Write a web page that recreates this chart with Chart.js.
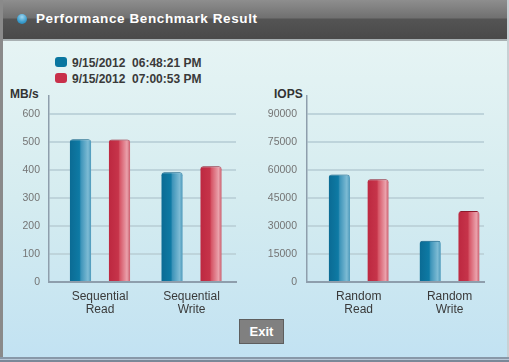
<!DOCTYPE html>
<html>
<head>
<meta charset="utf-8">
<script src="https://cdn.jsdelivr.net/npm/chart.js@4"></script>
<style>
html,body{margin:0;padding:0;width:509px;height:362px;overflow:hidden;font-family:"Liberation Sans",Arial,sans-serif;}
#frame{position:absolute;left:0;top:0;width:509px;height:362px;background:#8a8a8a;}
#titlebar{position:absolute;left:3px;top:0;width:504px;height:39px;
 background:linear-gradient(to bottom,#8e8e8e 0px,#707070 18px,#545454 19px,#4a4a4a 38px);}
#titleline{position:absolute;left:3px;top:39px;width:504px;height:2px;background:#a8b0b2;}
#bullet{position:absolute;left:17px;top:14px;width:10px;height:10px;border-radius:50%;
 background:radial-gradient(circle at 50% 30%,#9fd6f0 0%,#3a9ccc 60%,#1f7fb0 100%);}
#title{position:absolute;left:36px;top:11px;color:#fff;font-weight:bold;font-size:13.5px;letter-spacing:0.6px;white-space:nowrap;}
#body{position:absolute;left:3px;top:41px;width:504px;height:316px;
 background:linear-gradient(to bottom,#e6f4f4 0%,#d5ecf0 50%,#c2e2f2 100%);}
#rightedge{position:absolute;left:507px;top:0;width:2px;height:362px;background:#c8d0d4;}
#bottom{position:absolute;left:0;top:357px;width:509px;height:5px;background:linear-gradient(to bottom,#8898a8 0,#8898a8 2px,#b8c8d8 2px,#b8c8d8 3px,#7a8898 3px);}
.leg{position:absolute;left:55px;font-weight:bold;font-size:12px;color:#3a3a3a;white-space:pre;}
.sw{position:absolute;left:55px;width:12px;height:10px;border-radius:3px;}
.axt{position:absolute;font-weight:bold;font-size:12px;color:#333;}
#exit{position:absolute;left:239px;top:319px;width:43px;height:23px;background:#808080;border:1px solid #5e5e5e;
 color:#fff;font-weight:bold;font-size:13px;text-align:center;line-height:23px;}
canvas{position:absolute;}
#c1wrap{position:absolute;left:0;top:90px;width:250px;height:240px;}
#c2wrap{position:absolute;left:250px;top:90px;width:259px;height:240px;}
</style>
</head>
<body>
<div id="frame"></div>
<div id="body"></div>
<div id="titlebar"></div>
<div id="titleline"></div>
<div id="rightedge"></div>
<div id="bottom"></div>
<div id="bullet"></div>
<div id="title">Performance Benchmark Result</div>
<div class="sw" style="top:57px;background:#0a76a0"></div>
<div class="sw" style="top:73px;background:#c8304a"></div>
<div class="leg" id="l1" style="left:72px;top:56px"></div>
<div class="leg" id="l2" style="left:72px;top:72px"></div>
<div class="axt" style="left:10px;top:87px">MB/s</div>
<div class="axt" style="left:274px;top:87px">IOPS</div>
<div id="c1wrap"><canvas id="c1" width="250" height="240"></canvas></div>
<div id="c2wrap"><canvas id="c2" width="259" height="240"></canvas></div>
<div id="exit">Exit</div>
<script>
// ---- data ----
const seriesNames = ['9/15/2012  06:48:21 PM', '9/15/2012  07:00:53 PM'];
const mbpsCategories = ['Sequential Read', 'Sequential Write'];
const mbpsRun1 = [509, 391];
const mbpsRun2 = [508, 413];
const mbpsTicks = [0, 100, 200, 300, 400, 500, 600];
const iopsCategories = ['Random Read', 'Random Write'];
const iopsRun1 = [57500, 22000];
const iopsRun2 = [55000, 38000];
const iopsTicks = [0, 15000, 30000, 45000, 60000, 75000, 90000];

document.getElementById('l1').textContent = seriesNames[0];
document.getElementById('l2').textContent = seriesNames[1];

const blueStops = [[0,'#0b6b94'],[0.45,'#0e7aa4'],[0.52,'#3d94b9'],[0.85,'#7dbbd4'],[1,'#4b98ba']];
const redStops = [[0,'#bd2840'],[0.45,'#c6344a'],[0.52,'#d65667'],[0.85,'#eaa1ab'],[1,'#c95b6b']];

const gradientPlugin = {
  id: 'barGradient',
  beforeDatasetsDraw(chart) {
    const ctx = chart.ctx;
    chart.data.datasets.forEach((ds, di) => {
      const meta = chart.getDatasetMeta(di);
      const stops = di === 0 ? blueStops : redStops;
      meta.data.forEach(el => {
        const p = el.getProps(['x', 'width'], true);
        const g = ctx.createLinearGradient(p.x - p.width / 2, 0, p.x + p.width / 2, 0);
        stops.forEach(s => g.addColorStop(s[0], s[1]));
        el.options = Object.assign({}, el.options, { backgroundColor: g });
      });
    });
  }
};

function makeChart(id, cats, d1, d2, ticks, ymax, xmin, xmax, yWidth, tickPad, padRight) {
  return new Chart(document.getElementById(id), {
    type: 'bar',
    data: {
      labels: cats.map((_, i) => i),
      datasets: [
        { label: seriesNames[0], data: d1, borderColor: '#0a5a80' },
        { label: seriesNames[1], data: d2, borderColor: '#8e1a2c' }
      ]
    },
    plugins: [gradientPlugin],
    options: {
      responsive: false,
      animation: false,
      events: [],
      layout: { padding: { top: 6, right: padRight, left: 0, bottom: 0 } },
      datasets: {
        bar: {
          categoryPercentage: 0.852,
          barPercentage: 0.55,
          borderRadius: { topLeft: 3, topRight: 3, bottomLeft: 0, bottomRight: 0 },
          borderWidth: { top: 1, left: 0, right: 0, bottom: 0 },
          borderSkipped: 'start'
        }
      },
      plugins: { legend: { display: false }, tooltip: { enabled: false }, title: { display: false } },
      scales: {
        x: {
          type: 'linear',
          min: xmin, max: xmax,
          offset: false,
          grid: { display: false, drawTicks: false },
          border: { display: true, color: '#8e9eac', width: 2 },
          afterBuildTicks(scale) { scale.ticks = cats.map((_, i) => ({ value: i })); },
          afterFit(scale) { scale.height = 48; scale.paddingLeft = 0; scale.paddingRight = 0; },
          ticks: {
            autoSkip: false, maxRotation: 0, padding: 8,
            color: '#3a3a3a',
            font: { family: 'Liberation Sans', size: 12, lineHeight: 1.1 },
            callback: (v) => cats[v] !== undefined ? cats[v].split(' ') : ''
          }
        },
        y: {
          min: 0, max: ymax,
          grid: { color: '#bed4db', lineWidth: 2, drawTicks: false },
          border: { display: true, color: '#8e9eac', width: 1.5 },
          afterBuildTicks(scale) { scale.ticks = ticks.map(v => ({ value: v })); },
          afterFit(scale) { scale.width = yWidth; scale.paddingTop = 0; scale.paddingBottom = 0; },
          ticks: {
            padding: tickPad,
            color: '#747474',
            font: { family: 'Liberation Sans', size: 10.5 },
            callback: (v) => String(v)
          }
        }
      }
    }
  });
}

makeChart('c1', mbpsCategories, mbpsRun1, mbpsRun2, mbpsTicks, 663, -0.557, 1.486, 49, 9, 14);
makeChart('c2', iopsCategories, iopsRun1, iopsRun2, iopsTicks, 99500, -0.569, 1.379, 57, 10, 25);
</script>
</body>
</html>
